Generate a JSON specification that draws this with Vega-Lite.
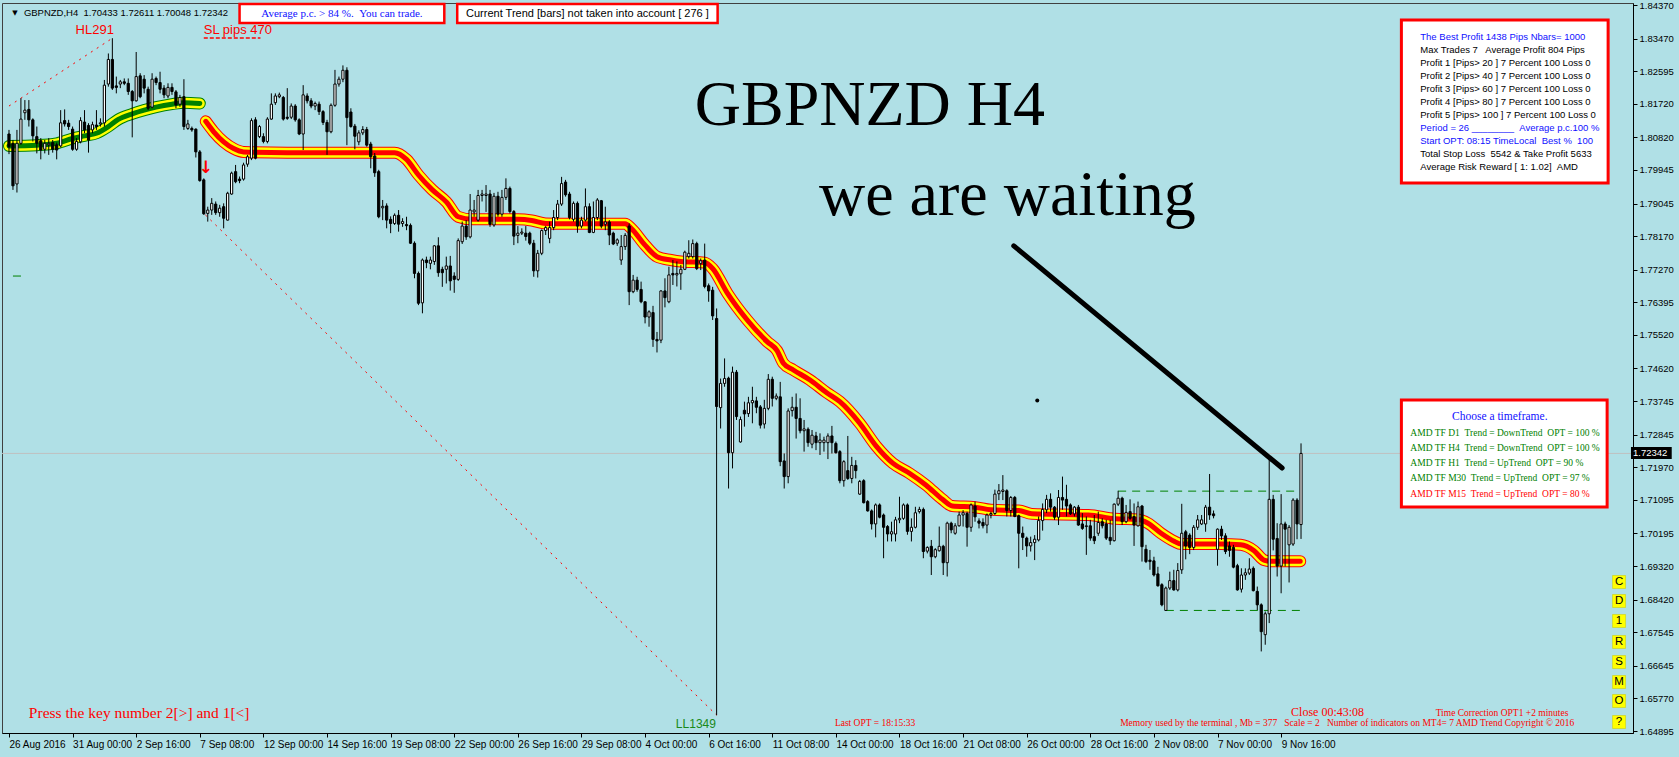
{
"$schema":"https://vega.github.io/schema/vega-lite/v6.json",
"width":1631,"height":730,"autosize":"none",
"padding":{"left":2,"top":3,"right":46,"bottom":24},
"background":"#b0e0e6",
"config":{"view":{"stroke":"#404040","strokeWidth":1,"fill":"#b0e0e6"},"font":"Liberation Sans"},
"resolve":{"axis":{"x":"independent","y":"independent"}},
"datasets":{
"bars":[
{"i":0,"o":1.8091,"h":1.8102,"l":1.8037,"c":1.8057},{"i":1,"o":1.8066,"h":1.8075,"l":1.7941,"c":1.7952},{"i":2,"o":1.7957,"h":1.8102,"l":1.7934,"c":1.8066},{"i":3,"o":1.8066,"h":1.8187,"l":1.8062,"c":1.8131},{"i":4,"o":1.8148,"h":1.8182,"l":1.8129,"c":1.8155},{"i":5,"o":1.8157,"h":1.8182,"l":1.8111,"c":1.8129},{"i":6,"o":1.8129,"h":1.8133,"l":1.8071,"c":1.8086},{"i":7,"o":1.8084,"h":1.8111,"l":1.8039,"c":1.8066},{"i":8,"o":1.8073,"h":1.808,"l":1.8023,"c":1.8048},{"i":9,"o":1.805,"h":1.8075,"l":1.8039,"c":1.8066},
{"i":10,"o":1.8062,"h":1.808,"l":1.8035,"c":1.8066},{"i":11,"o":1.8068,"h":1.8075,"l":1.8041,"c":1.805},{"i":12,"o":1.8062,"h":1.8068,"l":1.8023,"c":1.8048},{"i":13,"o":1.8059,"h":1.8155,"l":1.8055,"c":1.8121},{"i":14,"o":1.8127,"h":1.8157,"l":1.8111,"c":1.8118},{"i":15,"o":1.812,"h":1.8129,"l":1.8102,"c":1.8111},{"i":16,"o":1.8104,"h":1.8111,"l":1.8046,"c":1.805},{"i":17,"o":1.805,"h":1.808,"l":1.8046,"c":1.8071},{"i":18,"o":1.807,"h":1.8136,"l":1.8066,"c":1.8127},{"i":19,"o":1.8123,"h":1.8155,"l":1.8093,"c":1.8102},
{"i":20,"o":1.8114,"h":1.812,"l":1.8041,"c":1.8075},{"i":21,"o":1.8102,"h":1.8124,"l":1.8093,"c":1.8116},{"i":22,"o":1.8115,"h":1.8155,"l":1.8102,"c":1.8111},{"i":23,"o":1.8118,"h":1.8133,"l":1.8111,"c":1.8121},{"i":24,"o":1.8121,"h":1.8236,"l":1.8111,"c":1.8222},{"i":25,"o":1.8225,"h":1.8307,"l":1.8218,"c":1.8291},{"i":26,"o":1.8291,"h":1.8348,"l":1.8209,"c":1.8214},{"i":27,"o":1.822,"h":1.8245,"l":1.82,"c":1.8216},{"i":28,"o":1.8225,"h":1.8236,"l":1.8214,"c":1.8231},{"i":29,"o":1.8231,"h":1.824,"l":1.8222,"c":1.8227},
{"i":30,"o":1.8227,"h":1.824,"l":1.8196,"c":1.8205},{"i":31,"o":1.8205,"h":1.8209,"l":1.8082,"c":1.818},{"i":32,"o":1.818,"h":1.8311,"l":1.8178,"c":1.8245},{"i":33,"o":1.8247,"h":1.8254,"l":1.8187,"c":1.8191},{"i":34,"o":1.8238,"h":1.8249,"l":1.82,"c":1.8214},{"i":35,"o":1.8211,"h":1.8218,"l":1.8155,"c":1.816},{"i":36,"o":1.8163,"h":1.8254,"l":1.816,"c":1.8238},{"i":37,"o":1.824,"h":1.8245,"l":1.8222,"c":1.8229},{"i":38,"o":1.8229,"h":1.8258,"l":1.82,"c":1.8211},{"i":39,"o":1.8214,"h":1.8222,"l":1.8187,"c":1.8196},
{"i":40,"o":1.8193,"h":1.8227,"l":1.8187,"c":1.8216},{"i":41,"o":1.8216,"h":1.8227,"l":1.8196,"c":1.8205},{"i":42,"o":1.8204,"h":1.8209,"l":1.816,"c":1.8169},{"i":43,"o":1.8171,"h":1.8196,"l":1.8164,"c":1.8189},{"i":44,"o":1.8191,"h":1.8238,"l":1.8102,"c":1.8111},{"i":45,"o":1.8106,"h":1.8129,"l":1.8102,"c":1.8118},{"i":46,"o":1.8106,"h":1.8111,"l":1.8097,"c":1.8102},{"i":47,"o":1.8104,"h":1.8106,"l":1.8028,"c":1.8043},{"i":48,"o":1.8043,"h":1.8048,"l":1.7963,"c":1.7966},{"i":49,"o":1.7968,"h":1.7972,"l":1.7874,"c":1.7877},
{"i":50,"o":1.7878,"h":1.7896,"l":1.7856,"c":1.7887},{"i":51,"o":1.7887,"h":1.7919,"l":1.7874,"c":1.7905},{"i":52,"o":1.7903,"h":1.791,"l":1.7874,"c":1.788},{"i":53,"o":1.788,"h":1.7901,"l":1.7869,"c":1.7892},{"i":54,"o":1.7896,"h":1.7905,"l":1.7838,"c":1.7865},{"i":55,"o":1.786,"h":1.7936,"l":1.7859,"c":1.7932},{"i":56,"o":1.793,"h":1.799,"l":1.7928,"c":1.7986},{"i":57,"o":1.799,"h":1.8008,"l":1.7959,"c":1.7963},{"i":58,"o":1.797,"h":1.7977,"l":1.7959,"c":1.7966},{"i":59,"o":1.797,"h":1.8014,"l":1.7966,"c":1.8008},
{"i":60,"o":1.801,"h":1.8035,"l":1.8003,"c":1.803},{"i":61,"o":1.8026,"h":1.8133,"l":1.8021,"c":1.8127},{"i":62,"o":1.8129,"h":1.8136,"l":1.8023,"c":1.8026},{"i":63,"o":1.8084,"h":1.8115,"l":1.808,"c":1.8111},{"i":64,"o":1.8084,"h":1.8093,"l":1.8066,"c":1.8071},{"i":65,"o":1.8071,"h":1.8136,"l":1.8066,"c":1.8131},{"i":66,"o":1.8131,"h":1.82,"l":1.8129,"c":1.8171},{"i":67,"o":1.8175,"h":1.82,"l":1.8169,"c":1.8193},{"i":68,"o":1.8191,"h":1.8202,"l":1.8187,"c":1.8196},{"i":69,"o":1.8189,"h":1.8193,"l":1.8127,"c":1.8131},
{"i":70,"o":1.8136,"h":1.8214,"l":1.8129,"c":1.8133},{"i":71,"o":1.8136,"h":1.8173,"l":1.8131,"c":1.8166},{"i":72,"o":1.8166,"h":1.8171,"l":1.8124,"c":1.8129},{"i":73,"o":1.8129,"h":1.8133,"l":1.8088,"c":1.8091},{"i":74,"o":1.8091,"h":1.8222,"l":1.8048,"c":1.8196},{"i":75,"o":1.8193,"h":1.82,"l":1.8173,"c":1.818},{"i":76,"o":1.818,"h":1.8187,"l":1.816,"c":1.8166},{"i":77,"o":1.8166,"h":1.8178,"l":1.8155,"c":1.8173},{"i":78,"o":1.8171,"h":1.8178,"l":1.8142,"c":1.8151},{"i":79,"o":1.8151,"h":1.8155,"l":1.8115,"c":1.8122},
{"i":80,"o":1.8122,"h":1.8129,"l":1.8035,"c":1.8097},{"i":81,"o":1.8097,"h":1.8173,"l":1.8093,"c":1.8168},{"i":82,"o":1.8168,"h":1.8263,"l":1.8164,"c":1.8225},{"i":83,"o":1.8225,"h":1.8245,"l":1.8218,"c":1.8238},{"i":84,"o":1.8238,"h":1.8275,"l":1.823,"c":1.8262},{"i":85,"o":1.8262,"h":1.827,"l":1.8061,"c":1.8135},{"i":86,"o":1.815,"h":1.816,"l":1.8108,"c":1.8111},{"i":87,"o":1.8112,"h":1.8118,"l":1.805,"c":1.8085},{"i":88,"o":1.807,"h":1.8101,"l":1.8061,"c":1.8094},{"i":89,"o":1.8094,"h":1.8112,"l":1.8088,"c":1.8103},
{"i":90,"o":1.8103,"h":1.811,"l":1.8057,"c":1.8061},{"i":91,"o":1.8064,"h":1.807,"l":1.7999,"c":1.803},{"i":92,"o":1.8032,"h":1.804,"l":1.7976,"c":1.7987},{"i":93,"o":1.799,"h":1.7995,"l":1.7865,"c":1.7869},{"i":94,"o":1.7893,"h":1.7914,"l":1.786,"c":1.7897},{"i":95,"o":1.7898,"h":1.7905,"l":1.7838,"c":1.786},{"i":96,"o":1.7862,"h":1.787,"l":1.7825,"c":1.7851},{"i":97,"o":1.7851,"h":1.7878,"l":1.7847,"c":1.7873},{"i":98,"o":1.7873,"h":1.7887,"l":1.7829,"c":1.7849},{"i":99,"o":1.7851,"h":1.7865,"l":1.7842,"c":1.7856},
{"i":100,"o":1.7848,"h":1.7869,"l":1.7833,"c":1.7845},{"i":101,"o":1.7846,"h":1.7851,"l":1.7796,"c":1.7798},{"i":102,"o":1.7798,"h":1.7803,"l":1.7704,"c":1.7717},{"i":103,"o":1.7717,"h":1.7722,"l":1.7632,"c":1.7637},{"i":104,"o":1.7638,"h":1.7757,"l":1.761,"c":1.7753},{"i":105,"o":1.7753,"h":1.7762,"l":1.7731,"c":1.7746},{"i":106,"o":1.7744,"h":1.7762,"l":1.7728,"c":1.7753},{"i":107,"o":1.7749,"h":1.7793,"l":1.774,"c":1.7791},{"i":108,"o":1.7791,"h":1.7814,"l":1.7708,"c":1.7719},{"i":109,"o":1.7728,"h":1.7735,"l":1.7681,"c":1.7719},
{"i":110,"o":1.7728,"h":1.7762,"l":1.769,"c":1.7737},{"i":111,"o":1.7737,"h":1.7764,"l":1.7671,"c":1.7697},{"i":112,"o":1.771,"h":1.772,"l":1.7665,"c":1.7701},{"i":113,"o":1.7701,"h":1.7811,"l":1.7697,"c":1.7805},{"i":114,"o":1.7802,"h":1.7856,"l":1.7796,"c":1.7844},{"i":115,"o":1.7844,"h":1.786,"l":1.7807,"c":1.7815},{"i":116,"o":1.7815,"h":1.793,"l":1.7811,"c":1.7887},{"i":117,"o":1.7882,"h":1.7914,"l":1.7869,"c":1.7887},{"i":118,"o":1.786,"h":1.7941,"l":1.7856,"c":1.7926},{"i":119,"o":1.7926,"h":1.7941,"l":1.791,"c":1.793},
{"i":120,"o":1.7926,"h":1.7954,"l":1.7882,"c":1.793},{"i":121,"o":1.793,"h":1.7941,"l":1.7842,"c":1.7849},{"i":122,"o":1.7847,"h":1.7933,"l":1.7842,"c":1.7924},{"i":123,"o":1.7924,"h":1.7936,"l":1.7869,"c":1.7876},{"i":124,"o":1.7876,"h":1.7941,"l":1.7869,"c":1.7921},{"i":125,"o":1.7921,"h":1.7972,"l":1.7914,"c":1.7945},{"i":126,"o":1.7945,"h":1.795,"l":1.7878,"c":1.7883},{"i":127,"o":1.7883,"h":1.7887,"l":1.7793,"c":1.7817},{"i":128,"o":1.7819,"h":1.7844,"l":1.7798,"c":1.7825},{"i":129,"o":1.7825,"h":1.7838,"l":1.782,"c":1.7828},
{"i":130,"o":1.7825,"h":1.7844,"l":1.7805,"c":1.7816},{"i":131,"o":1.7825,"h":1.7829,"l":1.7793,"c":1.7798},{"i":132,"o":1.7798,"h":1.7807,"l":1.7708,"c":1.7724},{"i":133,"o":1.7724,"h":1.778,"l":1.7706,"c":1.7771},{"i":134,"o":1.7771,"h":1.7835,"l":1.7766,"c":1.7832},{"i":135,"o":1.7832,"h":1.7844,"l":1.782,"c":1.784},{"i":136,"o":1.7811,"h":1.7856,"l":1.7798,"c":1.784},{"i":137,"o":1.784,"h":1.7887,"l":1.7833,"c":1.7867},{"i":138,"o":1.7867,"h":1.7914,"l":1.786,"c":1.7903},{"i":139,"o":1.7903,"h":1.7976,"l":1.7898,"c":1.7958},
{"i":140,"o":1.7962,"h":1.7968,"l":1.7923,"c":1.7928},{"i":141,"o":1.793,"h":1.7936,"l":1.7862,"c":1.7867},{"i":142,"o":1.7862,"h":1.791,"l":1.7856,"c":1.7905},{"i":143,"o":1.7905,"h":1.791,"l":1.7826,"c":1.7844},{"i":144,"o":1.7844,"h":1.7869,"l":1.7838,"c":1.786},{"i":145,"o":1.786,"h":1.7945,"l":1.7856,"c":1.7896},{"i":146,"o":1.7896,"h":1.7905,"l":1.7825,"c":1.7827},{"i":147,"o":1.7827,"h":1.791,"l":1.7825,"c":1.7867},{"i":148,"o":1.7867,"h":1.7919,"l":1.786,"c":1.7914},{"i":149,"o":1.7912,"h":1.7914,"l":1.7838,"c":1.7844},
{"i":150,"o":1.7849,"h":1.7896,"l":1.7833,"c":1.7855},{"i":151,"o":1.7855,"h":1.786,"l":1.7793,"c":1.782},{"i":152,"o":1.7825,"h":1.7829,"l":1.7793,"c":1.7796},{"i":153,"o":1.7798,"h":1.7811,"l":1.7791,"c":1.7807},{"i":154,"o":1.7753,"h":1.782,"l":1.774,"c":1.7789},{"i":155,"o":1.7789,"h":1.7825,"l":1.778,"c":1.7819},{"i":156,"o":1.7844,"h":1.7851,"l":1.7632,"c":1.7668},{"i":157,"o":1.7668,"h":1.7713,"l":1.7664,"c":1.7699},{"i":158,"o":1.7699,"h":1.7708,"l":1.7668,"c":1.7674},{"i":159,"o":1.7674,"h":1.7695,"l":1.7637,"c":1.7641},
{"i":160,"o":1.7641,"h":1.7641,"l":1.7583,"c":1.76},{"i":161,"o":1.76,"h":1.7618,"l":1.7574,"c":1.7614},{"i":162,"o":1.7612,"h":1.763,"l":1.752,"c":1.754},{"i":163,"o":1.754,"h":1.756,"l":1.7505,"c":1.7536},{"i":164,"o":1.7538,"h":1.7672,"l":1.753,"c":1.767},{"i":165,"o":1.767,"h":1.7704,"l":1.7626,"c":1.7652},{"i":166,"o":1.7641,"h":1.7735,"l":1.7637,"c":1.7713},{"i":167,"o":1.7717,"h":1.7753,"l":1.7686,"c":1.7713},{"i":168,"o":1.7713,"h":1.7749,"l":1.7682,"c":1.7717},{"i":169,"o":1.7716,"h":1.774,"l":1.7673,"c":1.7728},
{"i":170,"o":1.7728,"h":1.7778,"l":1.7726,"c":1.7774},{"i":171,"o":1.7762,"h":1.7806,"l":1.7757,"c":1.7771},{"i":172,"o":1.7762,"h":1.7808,"l":1.7757,"c":1.7797},{"i":173,"o":1.7797,"h":1.7802,"l":1.7726,"c":1.773},{"i":174,"o":1.7744,"h":1.7757,"l":1.7726,"c":1.7751},{"i":175,"o":1.7753,"h":1.7797,"l":1.7677,"c":1.7682},{"i":176,"o":1.7684,"h":1.769,"l":1.7641,"c":1.767},{"i":177,"o":1.7672,"h":1.7681,"l":1.7592,"c":1.7603},{"i":178,"o":1.7596,"h":1.7623,"l":1.6532,"c":1.736},{"i":179,"o":1.7357,"h":1.7435,"l":1.7301,"c":1.7422},
{"i":180,"o":1.7422,"h":1.7489,"l":1.7413,"c":1.7435},{"i":181,"o":1.7436,"h":1.744,"l":1.714,"c":1.7236},{"i":182,"o":1.7236,"h":1.7467,"l":1.7194,"c":1.7452},{"i":183,"o":1.7452,"h":1.7458,"l":1.7324,"c":1.7333},{"i":184,"o":1.7265,"h":1.7333,"l":1.7263,"c":1.7325},{"i":185,"o":1.735,"h":1.7373,"l":1.7306,"c":1.734},{"i":186,"o":1.7341,"h":1.7386,"l":1.7332,"c":1.737},{"i":187,"o":1.737,"h":1.7413,"l":1.7315,"c":1.7376},{"i":188,"o":1.7375,"h":1.7386,"l":1.7342,"c":1.7358},{"i":189,"o":1.7359,"h":1.7364,"l":1.7301,"c":1.731},
{"i":190,"o":1.7313,"h":1.7378,"l":1.7301,"c":1.7355},{"i":191,"o":1.7355,"h":1.7447,"l":1.735,"c":1.7433},{"i":192,"o":1.7433,"h":1.744,"l":1.736,"c":1.7382},{"i":193,"o":1.7382,"h":1.7395,"l":1.7377,"c":1.7388},{"i":194,"o":1.7386,"h":1.7426,"l":1.72,"c":1.7212},{"i":195,"o":1.7214,"h":1.7234,"l":1.714,"c":1.7172},{"i":196,"o":1.7172,"h":1.7355,"l":1.7154,"c":1.7348},{"i":197,"o":1.7349,"h":1.7386,"l":1.7333,"c":1.7358},{"i":198,"o":1.7358,"h":1.7395,"l":1.7274,"c":1.7328},{"i":199,"o":1.7328,"h":1.7382,"l":1.7288,"c":1.7295},
{"i":200,"o":1.7295,"h":1.7324,"l":1.7239,"c":1.73},{"i":201,"o":1.7299,"h":1.7304,"l":1.7252,"c":1.7263},{"i":202,"o":1.7259,"h":1.7297,"l":1.7248,"c":1.7283},{"i":203,"o":1.7281,"h":1.7292,"l":1.7243,"c":1.7263},{"i":204,"o":1.7263,"h":1.7288,"l":1.723,"c":1.727},{"i":205,"o":1.7263,"h":1.7279,"l":1.7239,"c":1.727},{"i":206,"o":1.7263,"h":1.7288,"l":1.7219,"c":1.7281},{"i":207,"o":1.7281,"h":1.7308,"l":1.7234,"c":1.7263},{"i":208,"o":1.7261,"h":1.7266,"l":1.7234,"c":1.7236},{"i":209,"o":1.7239,"h":1.7243,"l":1.7154,"c":1.7161},
{"i":210,"o":1.7161,"h":1.7216,"l":1.7145,"c":1.7212},{"i":211,"o":1.7188,"h":1.7281,"l":1.7163,"c":1.7167},{"i":212,"o":1.7167,"h":1.7225,"l":1.7154,"c":1.7202},{"i":213,"o":1.7202,"h":1.7216,"l":1.7167,"c":1.7188},{"i":214,"o":1.7125,"h":1.7163,"l":1.7123,"c":1.7159},{"i":215,"o":1.7161,"h":1.7165,"l":1.71,"c":1.7102},{"i":216,"o":1.7105,"h":1.7109,"l":1.7078,"c":1.708},{"i":217,"o":1.708,"h":1.7084,"l":1.703,"c":1.7045},{"i":218,"o":1.7045,"h":1.71,"l":1.7009,"c":1.7096},{"i":219,"o":1.7096,"h":1.71,"l":1.706,"c":1.7063},
{"i":220,"o":1.7069,"h":1.7073,"l":1.6953,"c":1.7036},{"i":221,"o":1.7038,"h":1.7042,"l":1.6998,"c":1.7018},{"i":222,"o":1.7018,"h":1.7051,"l":1.6998,"c":1.7024},{"i":223,"o":1.7018,"h":1.7064,"l":1.6998,"c":1.7056},{"i":224,"o":1.7056,"h":1.7118,"l":1.7047,"c":1.706},{"i":225,"o":1.706,"h":1.71,"l":1.7056,"c":1.7096},{"i":226,"o":1.7096,"h":1.71,"l":1.7016,"c":1.7025},{"i":227,"o":1.7025,"h":1.706,"l":1.6998,"c":1.7036},{"i":228,"o":1.7036,"h":1.7091,"l":1.7033,"c":1.7075},{"i":229,"o":1.7078,"h":1.7091,"l":1.7073,"c":1.7084},
{"i":230,"o":1.7084,"h":1.7089,"l":1.6953,"c":1.6971},{"i":231,"o":1.6972,"h":1.6985,"l":1.6966,"c":1.6982},{"i":232,"o":1.6985,"h":1.7002,"l":1.6908,"c":1.6957},{"i":233,"o":1.6957,"h":1.698,"l":1.6953,"c":1.6976},{"i":234,"o":1.6973,"h":1.7038,"l":1.6971,"c":1.6985},{"i":235,"o":1.6985,"h":1.6989,"l":1.6908,"c":1.6941},{"i":236,"o":1.6941,"h":1.7051,"l":1.6904,"c":1.7047},{"i":237,"o":1.7047,"h":1.7051,"l":1.702,"c":1.7029},{"i":238,"o":1.702,"h":1.7047,"l":1.7016,"c":1.704},{"i":239,"o":1.704,"h":1.7078,"l":1.7038,"c":1.7069},
{"i":240,"o":1.7069,"h":1.7082,"l":1.7038,"c":1.7075},{"i":241,"o":1.7073,"h":1.7078,"l":1.6984,"c":1.7036},{"i":242,"o":1.7036,"h":1.71,"l":1.7024,"c":1.7096},{"i":243,"o":1.7093,"h":1.7105,"l":1.7051,"c":1.7064},{"i":244,"o":1.7053,"h":1.706,"l":1.7033,"c":1.7047},{"i":245,"o":1.7049,"h":1.706,"l":1.7033,"c":1.704},{"i":246,"o":1.7042,"h":1.7073,"l":1.702,"c":1.7069},{"i":247,"o":1.7069,"h":1.7078,"l":1.706,"c":1.7073},{"i":248,"o":1.7073,"h":1.7137,"l":1.7069,"c":1.7125},{"i":249,"o":1.7126,"h":1.7152,"l":1.7109,"c":1.7134},
{"i":250,"o":1.7132,"h":1.7176,"l":1.7109,"c":1.7136},{"i":251,"o":1.7134,"h":1.7138,"l":1.7065,"c":1.7081},{"i":252,"o":1.7081,"h":1.712,"l":1.7065,"c":1.7116},{"i":253,"o":1.7116,"h":1.712,"l":1.7063,"c":1.7065},{"i":254,"o":1.7067,"h":1.707,"l":1.6926,"c":1.702},{"i":255,"o":1.702,"h":1.7038,"l":1.6975,"c":1.7009},{"i":256,"o":1.7007,"h":1.7011,"l":1.6957,"c":1.6986},{"i":257,"o":1.6986,"h":1.7011,"l":1.6971,"c":1.6995},{"i":258,"o":1.6995,"h":1.7015,"l":1.6948,"c":1.7004},{"i":259,"o":1.7002,"h":1.7065,"l":1.6998,"c":1.7054},
{"i":260,"o":1.7054,"h":1.71,"l":1.7027,"c":1.7084},{"i":261,"o":1.7083,"h":1.7123,"l":1.7074,"c":1.7111},{"i":262,"o":1.7111,"h":1.7127,"l":1.7078,"c":1.709},{"i":263,"o":1.709,"h":1.7093,"l":1.7056,"c":1.7063},{"i":264,"o":1.7063,"h":1.7136,"l":1.7042,"c":1.7116},{"i":265,"o":1.7116,"h":1.7172,"l":1.7083,"c":1.7109},{"i":266,"o":1.7111,"h":1.715,"l":1.7065,"c":1.7093},{"i":267,"o":1.7096,"h":1.71,"l":1.7069,"c":1.7072},{"i":268,"o":1.7072,"h":1.7093,"l":1.7065,"c":1.709},{"i":269,"o":1.709,"h":1.7096,"l":1.704,"c":1.7042},
{"i":270,"o":1.7045,"h":1.7074,"l":1.7029,"c":1.7033},{"i":271,"o":1.7038,"h":1.7065,"l":1.6962,"c":1.704},{"i":272,"o":1.704,"h":1.7056,"l":1.7,"c":1.7007},{"i":273,"o":1.7011,"h":1.7069,"l":1.6991,"c":1.7},{"i":274,"o":1.702,"h":1.7078,"l":1.7013,"c":1.7049},{"i":275,"o":1.7051,"h":1.706,"l":1.7033,"c":1.704},{"i":276,"o":1.7045,"h":1.7056,"l":1.7002,"c":1.7007},{"i":277,"o":1.7009,"h":1.7056,"l":1.6989,"c":1.7},{"i":278,"o":1.7,"h":1.71,"l":1.6998,"c":1.7098},{"i":279,"o":1.7098,"h":1.7134,"l":1.7093,"c":1.7114},
{"i":280,"o":1.7114,"h":1.7118,"l":1.7042,"c":1.7051},{"i":281,"o":1.7051,"h":1.7096,"l":1.7047,"c":1.7076},{"i":282,"o":1.7078,"h":1.7111,"l":1.7056,"c":1.706},{"i":283,"o":1.7065,"h":1.71,"l":1.6986,"c":1.7042},{"i":284,"o":1.704,"h":1.7105,"l":1.7038,"c":1.7091},{"i":285,"o":1.7093,"h":1.7096,"l":1.6944,"c":1.6984},{"i":286,"o":1.6977,"h":1.6989,"l":1.694,"c":1.6944},{"i":287,"o":1.6948,"h":1.6975,"l":1.6922,"c":1.6944},{"i":288,"o":1.6946,"h":1.6957,"l":1.6904,"c":1.6908},{"i":289,"o":1.6911,"h":1.693,"l":1.6877,"c":1.6879},
{"i":290,"o":1.6882,"h":1.6886,"l":1.6824,"c":1.6828},{"i":291,"o":1.6813,"h":1.6877,"l":1.6813,"c":1.6873},{"i":292,"o":1.6873,"h":1.6917,"l":1.6868,"c":1.6893},{"i":293,"o":1.6893,"h":1.6922,"l":1.6866,"c":1.6868},{"i":294,"o":1.6868,"h":1.694,"l":1.6864,"c":1.692},{"i":295,"o":1.6922,"h":1.7099,"l":1.6911,"c":1.702},{"i":296,"o":1.7024,"h":1.7029,"l":1.695,"c":1.6986},{"i":297,"o":1.7015,"h":1.702,"l":1.6964,"c":1.6982},{"i":298,"o":1.6982,"h":1.7042,"l":1.6975,"c":1.7036},{"i":299,"o":1.7036,"h":1.7069,"l":1.7029,"c":1.7056},
{"i":300,"o":1.7045,"h":1.7069,"l":1.7042,"c":1.7056},{"i":301,"o":1.7045,"h":1.7096,"l":1.7024,"c":1.709},{"i":302,"o":1.709,"h":1.7179,"l":1.7056,"c":1.7069},{"i":303,"o":1.7072,"h":1.7081,"l":1.706,"c":1.7067},{"i":304,"o":1.6977,"h":1.7033,"l":1.6933,"c":1.7031},{"i":305,"o":1.7031,"h":1.704,"l":1.7002,"c":1.7013},{"i":306,"o":1.7013,"h":1.702,"l":1.6964,"c":1.6971},{"i":307,"o":1.6986,"h":1.6998,"l":1.6957,"c":1.6974},{"i":308,"o":1.6982,"h":1.6989,"l":1.6926,"c":1.6929},{"i":309,"o":1.6933,"h":1.6938,"l":1.6866,"c":1.6868},
{"i":310,"o":1.687,"h":1.6926,"l":1.6861,"c":1.6908},{"i":311,"o":1.6908,"h":1.6926,"l":1.6895,"c":1.6914},{"i":312,"o":1.6913,"h":1.6953,"l":1.6908,"c":1.6924},{"i":313,"o":1.6926,"h":1.6931,"l":1.6864,"c":1.6866},{"i":314,"o":1.6864,"h":1.6877,"l":1.6814,"c":1.6828},{"i":315,"o":1.6828,"h":1.6832,"l":1.6703,"c":1.6756},{"i":316,"o":1.6748,"h":1.681,"l":1.6721,"c":1.6804},{"i":317,"o":1.6804,"h":1.7218,"l":1.6779,"c":1.7111},{"i":318,"o":1.7111,"h":1.7123,"l":1.6974,"c":1.7004},{"i":319,"o":1.7006,"h":1.7047,"l":1.6904,"c":1.6932},
{"i":320,"o":1.6932,"h":1.7125,"l":1.6859,"c":1.7045},{"i":321,"o":1.7045,"h":1.7051,"l":1.6931,"c":1.7031},{"i":322,"o":1.6989,"h":1.7042,"l":1.6888,"c":1.7036},{"i":323,"o":1.6991,"h":1.7114,"l":1.6986,"c":1.7109},{"i":324,"o":1.7109,"h":1.7114,"l":1.7004,"c":1.7045},{"i":325,"o":1.70433,"h":1.72611,"l":1.70048,"c":1.72342}
],
"ma":[
{"i":0,"v":1.8059,"s":"up"},{"i":7,"v":1.8061,"s":"up"},{"i":12,"v":1.8066,"s":"up"},{"i":16,"v":1.8079,"s":"up"},{"i":19,"v":1.8086,"s":"up"},{"i":22,"v":1.8093,"s":"up"},{"i":25,"v":1.8111,"s":"up"},{"i":27.5,"v":1.813,"s":"up"},{"i":31,"v":1.8145,"s":"up"},{"i":34,"v":1.8155,"s":"up"},{"i":37,"v":1.8163,"s":"up"},{"i":41,"v":1.8171,"s":"up"},{"i":44,"v":1.8175,"s":"up"},{"i":48,"v":1.8173,"s":"up"},
{"i":49.5,"v":1.8125,"s":"dn"},{"i":51.5,"v":1.8097,"s":"dn"},{"i":54,"v":1.807,"s":"dn"},{"i":56.5,"v":1.8052,"s":"dn"},{"i":59,"v":1.8043,"s":"dn"},{"i":70,"v":1.8041,"s":"dn"},{"i":84,"v":1.8041,"s":"dn"},{"i":97,"v":1.8041,"s":"dn"},{"i":100,"v":1.8023,"s":"dn"},{"i":103,"v":1.7981,"s":"dn"},{"i":106.5,"v":1.7941,"s":"dn"},{"i":110,"v":1.7909,"s":"dn"},{"i":113,"v":1.7869,"s":"dn"},{"i":116.5,"v":1.7862,"s":"dn"},{"i":128,"v":1.7862,"s":"dn"},{"i":131.5,"v":1.7859,"s":"dn"},{"i":135,"v":1.7851,"s":"dn"},{"i":140,"v":1.785,"s":"dn"},{"i":155,"v":1.785,"s":"dn"},{"i":156.5,"v":1.7838,"s":"dn"},{"i":160,"v":1.7793,"s":"dn"},{"i":163,"v":1.7762,"s":"dn"},{"i":166.5,"v":1.7753,"s":"dn"},{"i":169,"v":1.7749,"s":"dn"},{"i":175,"v":1.7746,"s":"dn"},{"i":177,"v":1.773,"s":"dn"},{"i":180.7,"v":1.7664,"s":"dn"},{"i":185.7,"v":1.7592,"s":"dn"},{"i":190.7,"v":1.7534,"s":"dn"},{"i":193.2,"v":1.751,"s":"dn"},{"i":194.8,"v":1.7476,"s":"dn"},{"i":197.3,"v":1.7458,"s":"dn"},{"i":201.5,"v":1.7431,"s":"dn"},{"i":205.7,"v":1.7397,"s":"dn"},{"i":209,"v":1.7373,"s":"dn"},{"i":214,"v":1.7315,"s":"dn"},{"i":218.2,"v":1.7253,"s":"dn"},{"i":222.3,"v":1.7208,"s":"dn"},{"i":226.5,"v":1.7181,"s":"dn"},{"i":230.7,"v":1.7149,"s":"dn"},{"i":234.8,"v":1.7111,"s":"dn"},{"i":237.3,"v":1.7093,"s":"dn"},{"i":243,"v":1.709,"s":"dn"},{"i":247,"v":1.7083,"s":"dn"},{"i":254,"v":1.7081,"s":"dn"},{"i":257.3,"v":1.7072,"s":"dn"},{"i":271.5,"v":1.7069,"s":"dn"},{"i":278.2,"v":1.7059,"s":"dn"},{"i":284,"v":1.7057,"s":"dn"},{"i":286.5,"v":1.7047,"s":"dn"},{"i":289.8,"v":1.702,"s":"dn"},{"i":293.2,"v":1.6998,"s":"dn"},{"i":294.8,"v":1.6991,"s":"dn"},{"i":304.8,"v":1.6991,"s":"dn"},{"i":309.8,"v":1.6989,"s":"dn"},{"i":313.2,"v":1.6973,"s":"dn"},{"i":315.7,"v":1.6948,"s":"dn"},{"i":317.3,"v":1.6945,"s":"dn"},{"i":324.8,"v":1.6945,"s":"dn"}
],
"segs":[
{"g":"dot","i":0,"i2":26,"p":1.8166,"p2":1.8348},
{"g":"dot","i":49.4,"i2":178,"p":1.7874,"p2":1.6532},
{"g":"sl","i":49,"i2":63.25,"p":1.83485,"p2":1.83485},
{"g":"grn","i":279,"i2":324,"p":1.7133,"p2":1.7133},
{"g":"grn","i":291,"i2":325,"p":1.6813,"p2":1.6813},
{"g":"grn","i":1,"i2":3.25,"p":1.771,"p2":1.771},
{"g":"ptr","i":252.75,"i2":320.25,"p":1.7791,"p2":1.7195}
],
"boxes":[
{"g":"top","i":58,"i2":109.5,"p":1.84397,"p2":1.83887},
{"g":"top","i":112.75,"i2":178.25,"p":1.84397,"p2":1.83887},
{"g":"info","i":350.25,"i2":402.25,"p":1.83968,"p2":1.79595},
{"g":"info","i":350.25,"i2":402,"p":1.73775,"p2":1.70904},
{"g":"pbox","i":408,"i2":418.25,"p":1.72514,"p2":1.72192}
],
"notes":[
{"g":"hdr","i":3.75,"p":1.84155,"t":"GBPNZD,H4 \u00a01.70433 1.72611 1.70048 1.72342"},
{"g":"tri","i":1.5,"p":1.84155,"t":"▼"},
{"g":"boxA","i":83.75,"p":1.84129,"t":"Average p.c. > 84 %. \u00a0You can trade."},
{"g":"boxB","i":145.5,"p":1.84129,"t":"Current Trend [bars] not taken into account [ 276 ]"},
{"g":"red13","i":16.75,"p":1.83699,"t":"HL291"},
{"g":"red13","i":49,"p":1.83699,"t":"SL pips 470"},
{"g":"big","i":172.5,"p":1.81151,"t":"GBPNZD H4"},
{"g":"big","i":203.75,"p":1.78737,"t":"we are waiting"},
{"g":"infoBlue","i":355,"p":1.835116,"t":"The Best Profit 1438 Pips Nbars= 1000"},
{"g":"infoBlack","i":355,"p":1.831629,"t":"Max Trades 7 \u00a0 Average Profit 804 Pips"},
{"g":"infoBlack","i":355,"p":1.828142,"t":"Profit 1 [Pips> 20 ] 7 Percent 100 Loss 0"},
{"g":"infoBlack","i":355,"p":1.824655,"t":"Profit 2 [Pips> 40 ] 7 Percent 100 Loss 0"},
{"g":"infoBlack","i":355,"p":1.821168,"t":"Profit 3 [Pips> 60 ] 7 Percent 100 Loss 0"},
{"g":"infoBlack","i":355,"p":1.817681,"t":"Profit 4 [Pips> 80 ] 7 Percent 100 Loss 0"},
{"g":"infoBlack","i":355,"p":1.814194,"t":"Profit 5 [Pips> 100 ] 7 Percent 100 Loss 0"},
{"g":"infoBlue","i":355,"p":1.810706,"t":"Period = 26 ________ \u00a0Average p.c.100 %"},
{"g":"infoBlue","i":355,"p":1.807219,"t":"Start OPT: 08:15 TimeLocal \u00a0Best % \u00a0100"},
{"g":"infoBlack","i":355,"p":1.803732,"t":"Total Stop Loss \u00a05542 & Take Profit 5633"},
{"g":"infoBlack","i":355,"p":1.800245,"t":"Average Risk Reward [ 1: 1.02] \u00a0AMD"},
{"g":"tfTitle","i":375,"p":1.73319,"t":"Choose a timeframe."},
{"g":"tfGreen","i":352.5,"p":1.728893,"t":"AMD TF D1 \u00a0Trend = DownTrend \u00a0OPT = 100 %"},
{"g":"tfGreen","i":352.5,"p":1.72487,"t":"AMD TF H4 \u00a0Trend = DownTrend \u00a0OPT = 100 %"},
{"g":"tfGreen","i":352.5,"p":1.720846,"t":"AMD TF H1 \u00a0Trend = UpTrend \u00a0OPT = 90 %"},
{"g":"tfGreen","i":352.5,"p":1.716822,"t":"AMD TF M30 \u00a0Trend = UpTrend \u00a0OPT = 97 %"},
{"g":"tfRed","i":352.5,"p":1.712531,"t":"AMD TF M15 \u00a0Trend = UpTrend \u00a0OPT = 80 %"},
{"g":"press","i":5,"p":1.65379,"t":"Press the key number 2[>] and 1[<]"},
{"g":"ll","i":167.75,"p":1.65084,"t":"LL1349"},
{"g":"smallL","i":207.75,"p":1.6511,"t":"Last OPT = 18:15:33"},
{"g":"smallR","i":393.75,"p":1.6511,"t":"Memory used by the terminal , Mb = 377 \u00a0 Scale = 2 \u00a0 Number of indicators on MT4= 7 AMD Trend Copyright © 2016"},
{"g":"smallR","i":392.25,"p":1.65379,"t":"Time Correction OPT1 +2 minutes"},
{"g":"close","i":322.5,"p":1.65405,"t":"Close 00:43:08"},
{"g":"btn","i":405,"p":1.68893,"t":"C"},
{"g":"btn","i":405,"p":1.68383,"t":"D"},
{"g":"btn","i":405,"p":1.67847,"t":"1"},
{"g":"btn","i":405,"p":1.67284,"t":"R"},
{"g":"btn","i":405,"p":1.66746,"t":"S"},
{"g":"btn","i":405,"p":1.6621,"t":"M"},
{"g":"btn","i":405,"p":1.657,"t":"O"},
{"g":"btn","i":405,"p":1.65137,"t":"?"},
{"g":"pbox","i":408.5,"p":1.72342,"t":"1.72342"},
{"g":"arrow","i":49.5,"p":1.79998,"t":"↓"},
{"g":"dot","i":258.65,"p":1.73761,"t":""}
]
},
"layer":[
{"data":{"name":"bars"},"mark":{"type":"rule","opacity":0},"encoding":{"x":{"field":"i","type":"quantitative","scale":{"domain":[-0.5,407.25],"nice":false,"zero":false},"axis":{"orient":"bottom","title":null,"grid":false,"values":[0,16,32,48,64,80,96,112,128,144,160,176,192,208,224,240,256,272,288,304,320],"labelExpr":"['26 Aug 2016','31 Aug 00:00','2 Sep 16:00','7 Sep 08:00','12 Sep 00:00','14 Sep 16:00','19 Sep 08:00','22 Sep 00:00','26 Sep 16:00','29 Sep 08:00','4 Oct 00:00','6 Oct 16:00','11 Oct 08:00','14 Oct 00:00','18 Oct 16:00','21 Oct 08:00','26 Oct 00:00','28 Oct 16:00','2 Nov 08:00','7 Nov 00:00','9 Nov 16:00'][round(datum.value/16)]","labelAlign":"left","labelBaseline":"top","labelPadding":2,"labelOffset":0,"tickSize":4,"tickColor":"#000000","domainColor":"#000000","labelColor":"#000000","labelFont":"Liberation Sans","labelFontSize":10,"labelOverlap":false,"labelFlush":false,"labelBound":false}},"y":{"field":"l","type":"quantitative","scale":{"domain":[1.64842,1.84424],"nice":false,"zero":false},"axis":{"orient":"right","title":null,"grid":false,"values":[1.8437,1.8347,1.82595,1.8172,1.8082,1.79945,1.79045,1.7817,1.7727,1.76395,1.7552,1.7462,1.73745,1.72845,1.7197,1.71095,1.70195,1.6932,1.6842,1.67545,1.66645,1.6577,1.64895],"format":".5f","labelPadding":2,"tickSize":4,"tickColor":"#000000","domainColor":"#000000","labelColor":"#000000","labelFont":"Liberation Sans","labelFontSize":9.5,"labelBaseline":"middle","labelOverlap":false,"labelFlush":false,"labelBound":false}},"y2":{"field":"h"}}},
{"data":{"values":[{"p":1.72342}]},"mark":{"type":"rule","color":"#c0c0c0","strokeWidth":1},"encoding":{"y":{"field":"p","type":"quantitative","scale":{"domain":[1.64842,1.84424],"nice":false,"zero":false},"axis":null}}},
{"data":{"name":"ma"},"transform":[{"filter":"datum.s=='up'"}],"mark":{"type":"line","interpolate":"monotone","strokeCap":"round","strokeJoin":"round","strokeWidth":12,"color":"#008000"},"encoding":{"x":{"field":"i","type":"quantitative","scale":{"domain":[-0.5,407.25],"nice":false,"zero":false},"axis":null},"y":{"field":"v","type":"quantitative","scale":{"domain":[1.64842,1.84424],"nice":false,"zero":false},"axis":null}}},
{"data":{"name":"ma"},"transform":[{"filter":"datum.s=='up'"}],"mark":{"type":"line","interpolate":"monotone","strokeCap":"round","strokeJoin":"round","strokeWidth":10,"color":"#ffff00"},"encoding":{"x":{"field":"i","type":"quantitative","scale":{"domain":[-0.5,407.25],"nice":false,"zero":false},"axis":null},"y":{"field":"v","type":"quantitative","scale":{"domain":[1.64842,1.84424],"nice":false,"zero":false},"axis":null}}},
{"data":{"name":"ma"},"transform":[{"filter":"datum.s=='up'"}],"mark":{"type":"line","interpolate":"monotone","strokeCap":"round","strokeJoin":"round","strokeWidth":5,"color":"#008000"},"encoding":{"x":{"field":"i","type":"quantitative","scale":{"domain":[-0.5,407.25],"nice":false,"zero":false},"axis":null},"y":{"field":"v","type":"quantitative","scale":{"domain":[1.64842,1.84424],"nice":false,"zero":false},"axis":null}}},
{"data":{"name":"ma"},"transform":[{"filter":"datum.s=='dn'"}],"mark":{"type":"line","interpolate":"monotone","strokeCap":"round","strokeJoin":"round","strokeWidth":12,"color":"#ff0000"},"encoding":{"x":{"field":"i","type":"quantitative","scale":{"domain":[-0.5,407.25],"nice":false,"zero":false},"axis":null},"y":{"field":"v","type":"quantitative","scale":{"domain":[1.64842,1.84424],"nice":false,"zero":false},"axis":null}}},
{"data":{"name":"ma"},"transform":[{"filter":"datum.s=='dn'"}],"mark":{"type":"line","interpolate":"monotone","strokeCap":"round","strokeJoin":"round","strokeWidth":10,"color":"#ffff00"},"encoding":{"x":{"field":"i","type":"quantitative","scale":{"domain":[-0.5,407.25],"nice":false,"zero":false},"axis":null},"y":{"field":"v","type":"quantitative","scale":{"domain":[1.64842,1.84424],"nice":false,"zero":false},"axis":null}}},
{"data":{"name":"ma"},"transform":[{"filter":"datum.s=='dn'"}],"mark":{"type":"line","interpolate":"monotone","strokeCap":"round","strokeJoin":"round","strokeWidth":5,"color":"#ff0000"},"encoding":{"x":{"field":"i","type":"quantitative","scale":{"domain":[-0.5,407.25],"nice":false,"zero":false},"axis":null},"y":{"field":"v","type":"quantitative","scale":{"domain":[1.64842,1.84424],"nice":false,"zero":false},"axis":null}}},
{"data":{"name":"segs"},"transform":[{"filter":"datum.g=='dot'"}],"mark":{"type":"rule","color":"#ff0000","strokeWidth":1,"strokeDash":[2,5]},"encoding":{"x":{"field":"i","type":"quantitative","scale":{"domain":[-0.5,407.25],"nice":false,"zero":false},"axis":null},"x2":{"field":"i2"},"y":{"field":"p","type":"quantitative","scale":{"domain":[1.64842,1.84424],"nice":false,"zero":false},"axis":null},"y2":{"field":"p2"}}},
{"data":{"name":"segs"},"transform":[{"filter":"datum.g=='sl'"}],"mark":{"type":"rule","color":"#ff0000","strokeWidth":1.5,"strokeDash":[4,2]},"encoding":{"x":{"field":"i","type":"quantitative","scale":{"domain":[-0.5,407.25],"nice":false,"zero":false},"axis":null},"x2":{"field":"i2"},"y":{"field":"p","type":"quantitative","scale":{"domain":[1.64842,1.84424],"nice":false,"zero":false},"axis":null},"y2":{"field":"p2"}}},
{"data":{"name":"segs"},"transform":[{"filter":"datum.g=='grn'"}],"mark":{"type":"rule","color":"#008000","strokeWidth":1,"strokeDash":[8,6]},"encoding":{"x":{"field":"i","type":"quantitative","scale":{"domain":[-0.5,407.25],"nice":false,"zero":false},"axis":null},"x2":{"field":"i2"},"y":{"field":"p","type":"quantitative","scale":{"domain":[1.64842,1.84424],"nice":false,"zero":false},"axis":null},"y2":{"field":"p2"}}},
{"data":{"name":"bars"},"mark":{"type":"rule","color":"#000000","strokeWidth":1},"encoding":{"x":{"field":"i","type":"quantitative","scale":{"domain":[-0.5,407.25],"nice":false,"zero":false},"axis":null},"y":{"field":"l","type":"quantitative","scale":{"domain":[1.64842,1.84424],"nice":false,"zero":false},"axis":null},"y2":{"field":"h"}}},
{"data":{"name":"bars"},"mark":{"type":"bar","width":2.2,"stroke":"#000000","strokeWidth":1},"encoding":{"x":{"field":"i","type":"quantitative","scale":{"domain":[-0.5,407.25],"nice":false,"zero":false},"axis":null},"y":{"field":"o","type":"quantitative","scale":{"domain":[1.64842,1.84424],"nice":false,"zero":false},"axis":null},"y2":{"field":"c"},"fill":{"condition":{"test":"datum.c >= datum.o","value":"#ffffff"},"value":"#000000"}}},
{"data":{"name":"segs"},"transform":[{"filter":"datum.g=='ptr'"}],"mark":{"type":"rule","color":"#000000","strokeWidth":5,"strokeCap":"round"},"encoding":{"x":{"field":"i","type":"quantitative","scale":{"domain":[-0.5,407.25],"nice":false,"zero":false},"axis":null},"x2":{"field":"i2"},"y":{"field":"p","type":"quantitative","scale":{"domain":[1.64842,1.84424],"nice":false,"zero":false},"axis":null},"y2":{"field":"p2"}}},
{"data":{"name":"notes"},"transform":[{"filter":"datum.g=='dot'"}],"mark":{"type":"point","shape":"circle","filled":true,"size":16,"color":"#000000","opacity":1},"encoding":{"x":{"field":"i","type":"quantitative","scale":{"domain":[-0.5,407.25],"nice":false,"zero":false},"axis":null},"y":{"field":"p","type":"quantitative","scale":{"domain":[1.64842,1.84424],"nice":false,"zero":false},"axis":null}}},
{"data":{"name":"boxes"},"transform":[{"filter":"datum.g=='top'"}],"mark":{"type":"rect","fill":"#ffffff","stroke":"#ff0000","strokeWidth":2.5},"encoding":{"x":{"field":"i","type":"quantitative","scale":{"domain":[-0.5,407.25],"nice":false,"zero":false},"axis":null},"x2":{"field":"i2"},"y":{"field":"p","type":"quantitative","scale":{"domain":[1.64842,1.84424],"nice":false,"zero":false},"axis":null},"y2":{"field":"p2"}}},
{"data":{"name":"boxes"},"transform":[{"filter":"datum.g=='info'"}],"mark":{"type":"rect","fill":"#ffffff","stroke":"#ff0000","strokeWidth":3},"encoding":{"x":{"field":"i","type":"quantitative","scale":{"domain":[-0.5,407.25],"nice":false,"zero":false},"axis":null},"x2":{"field":"i2"},"y":{"field":"p","type":"quantitative","scale":{"domain":[1.64842,1.84424],"nice":false,"zero":false},"axis":null},"y2":{"field":"p2"}}},
{"data":{"name":"boxes"},"transform":[{"filter":"datum.g=='pbox'"}],"mark":{"type":"rect","fill":"#000000"},"encoding":{"x":{"field":"i","type":"quantitative","scale":{"domain":[-0.5,407.25],"nice":false,"zero":false},"axis":null},"x2":{"field":"i2"},"y":{"field":"p","type":"quantitative","scale":{"domain":[1.64842,1.84424],"nice":false,"zero":false},"axis":null},"y2":{"field":"p2"}}},
{"data":{"name":"notes"},"transform":[{"filter":"datum.g=='btn'"}],"mark":{"type":"point","shape":"square","filled":true,"size":169,"color":"#ffff00","opacity":1,"stroke":"#c8c800","strokeWidth":0.5},"encoding":{"x":{"field":"i","type":"quantitative","scale":{"domain":[-0.5,407.25],"nice":false,"zero":false},"axis":null},"y":{"field":"p","type":"quantitative","scale":{"domain":[1.64842,1.84424],"nice":false,"zero":false},"axis":null}}},
{"data":{"name":"notes"},"transform":[{"filter":"datum.g=='btn'"}],"mark":{"type":"text","align":"center","baseline":"middle","font":"Liberation Sans","fontSize":11.5,"color":"#000000"},"encoding":{"x":{"field":"i","type":"quantitative","scale":{"domain":[-0.5,407.25],"nice":false,"zero":false},"axis":null},"y":{"field":"p","type":"quantitative","scale":{"domain":[1.64842,1.84424],"nice":false,"zero":false},"axis":null},"text":{"field":"t"}}},
{"data":{"name":"notes"},"transform":[{"filter":"datum.g=='hdr'"}],"mark":{"type":"text","align":"left","baseline":"middle","font":"Liberation Sans","fontSize":9.5,"color":"#000000"},"encoding":{"x":{"field":"i","type":"quantitative","scale":{"domain":[-0.5,407.25],"nice":false,"zero":false},"axis":null},"y":{"field":"p","type":"quantitative","scale":{"domain":[1.64842,1.84424],"nice":false,"zero":false},"axis":null},"text":{"field":"t"}}},
{"data":{"name":"notes"},"transform":[{"filter":"datum.g=='tri'"}],"mark":{"type":"text","align":"center","baseline":"middle","font":"DejaVu Sans","fontSize":7,"color":"#000000"},"encoding":{"x":{"field":"i","type":"quantitative","scale":{"domain":[-0.5,407.25],"nice":false,"zero":false},"axis":null},"y":{"field":"p","type":"quantitative","scale":{"domain":[1.64842,1.84424],"nice":false,"zero":false},"axis":null},"text":{"field":"t"}}},
{"data":{"name":"notes"},"transform":[{"filter":"datum.g=='boxA'"}],"mark":{"type":"text","align":"center","baseline":"middle","font":"Liberation Serif","fontSize":11,"color":"#1010ff"},"encoding":{"x":{"field":"i","type":"quantitative","scale":{"domain":[-0.5,407.25],"nice":false,"zero":false},"axis":null},"y":{"field":"p","type":"quantitative","scale":{"domain":[1.64842,1.84424],"nice":false,"zero":false},"axis":null},"text":{"field":"t"}}},
{"data":{"name":"notes"},"transform":[{"filter":"datum.g=='boxB'"}],"mark":{"type":"text","align":"center","baseline":"middle","font":"Liberation Sans","fontSize":11,"color":"#000000"},"encoding":{"x":{"field":"i","type":"quantitative","scale":{"domain":[-0.5,407.25],"nice":false,"zero":false},"axis":null},"y":{"field":"p","type":"quantitative","scale":{"domain":[1.64842,1.84424],"nice":false,"zero":false},"axis":null},"text":{"field":"t"}}},
{"data":{"name":"notes"},"transform":[{"filter":"datum.g=='red13'"}],"mark":{"type":"text","align":"left","baseline":"middle","font":"Liberation Sans","fontSize":13,"color":"#ff0000"},"encoding":{"x":{"field":"i","type":"quantitative","scale":{"domain":[-0.5,407.25],"nice":false,"zero":false},"axis":null},"y":{"field":"p","type":"quantitative","scale":{"domain":[1.64842,1.84424],"nice":false,"zero":false},"axis":null},"text":{"field":"t"}}},
{"data":{"name":"notes"},"transform":[{"filter":"datum.g=='big'"}],"mark":{"type":"text","align":"left","baseline":"alphabetic","font":"Liberation Serif","fontSize":64,"color":"#000000"},"encoding":{"x":{"field":"i","type":"quantitative","scale":{"domain":[-0.5,407.25],"nice":false,"zero":false},"axis":null},"y":{"field":"p","type":"quantitative","scale":{"domain":[1.64842,1.84424],"nice":false,"zero":false},"axis":null},"text":{"field":"t"}}},
{"data":{"name":"notes"},"transform":[{"filter":"datum.g=='infoBlue'"}],"mark":{"type":"text","align":"left","baseline":"middle","font":"Liberation Sans","fontSize":9.5,"color":"#1010ff"},"encoding":{"x":{"field":"i","type":"quantitative","scale":{"domain":[-0.5,407.25],"nice":false,"zero":false},"axis":null},"y":{"field":"p","type":"quantitative","scale":{"domain":[1.64842,1.84424],"nice":false,"zero":false},"axis":null},"text":{"field":"t"}}},
{"data":{"name":"notes"},"transform":[{"filter":"datum.g=='infoBlack'"}],"mark":{"type":"text","align":"left","baseline":"middle","font":"Liberation Sans","fontSize":9.5,"color":"#000000"},"encoding":{"x":{"field":"i","type":"quantitative","scale":{"domain":[-0.5,407.25],"nice":false,"zero":false},"axis":null},"y":{"field":"p","type":"quantitative","scale":{"domain":[1.64842,1.84424],"nice":false,"zero":false},"axis":null},"text":{"field":"t"}}},
{"data":{"name":"notes"},"transform":[{"filter":"datum.g=='tfTitle'"}],"mark":{"type":"text","align":"center","baseline":"middle","font":"Liberation Serif","fontSize":11.5,"color":"#1010ff"},"encoding":{"x":{"field":"i","type":"quantitative","scale":{"domain":[-0.5,407.25],"nice":false,"zero":false},"axis":null},"y":{"field":"p","type":"quantitative","scale":{"domain":[1.64842,1.84424],"nice":false,"zero":false},"axis":null},"text":{"field":"t"}}},
{"data":{"name":"notes"},"transform":[{"filter":"datum.g=='tfGreen'"}],"mark":{"type":"text","align":"left","baseline":"middle","font":"Liberation Serif","fontSize":9.5,"color":"#008000"},"encoding":{"x":{"field":"i","type":"quantitative","scale":{"domain":[-0.5,407.25],"nice":false,"zero":false},"axis":null},"y":{"field":"p","type":"quantitative","scale":{"domain":[1.64842,1.84424],"nice":false,"zero":false},"axis":null},"text":{"field":"t"}}},
{"data":{"name":"notes"},"transform":[{"filter":"datum.g=='tfRed'"}],"mark":{"type":"text","align":"left","baseline":"middle","font":"Liberation Serif","fontSize":9.5,"color":"#ff0000"},"encoding":{"x":{"field":"i","type":"quantitative","scale":{"domain":[-0.5,407.25],"nice":false,"zero":false},"axis":null},"y":{"field":"p","type":"quantitative","scale":{"domain":[1.64842,1.84424],"nice":false,"zero":false},"axis":null},"text":{"field":"t"}}},
{"data":{"name":"notes"},"transform":[{"filter":"datum.g=='press'"}],"mark":{"type":"text","align":"left","baseline":"middle","font":"Liberation Serif","fontSize":15.5,"color":"#ff0000"},"encoding":{"x":{"field":"i","type":"quantitative","scale":{"domain":[-0.5,407.25],"nice":false,"zero":false},"axis":null},"y":{"field":"p","type":"quantitative","scale":{"domain":[1.64842,1.84424],"nice":false,"zero":false},"axis":null},"text":{"field":"t"}}},
{"data":{"name":"notes"},"transform":[{"filter":"datum.g=='ll'"}],"mark":{"type":"text","align":"left","baseline":"middle","font":"Liberation Sans","fontSize":12,"color":"#1a8a1a"},"encoding":{"x":{"field":"i","type":"quantitative","scale":{"domain":[-0.5,407.25],"nice":false,"zero":false},"axis":null},"y":{"field":"p","type":"quantitative","scale":{"domain":[1.64842,1.84424],"nice":false,"zero":false},"axis":null},"text":{"field":"t"}}},
{"data":{"name":"notes"},"transform":[{"filter":"datum.g=='smallL'"}],"mark":{"type":"text","align":"left","baseline":"middle","font":"Liberation Serif","fontSize":9.5,"color":"#ff0000"},"encoding":{"x":{"field":"i","type":"quantitative","scale":{"domain":[-0.5,407.25],"nice":false,"zero":false},"axis":null},"y":{"field":"p","type":"quantitative","scale":{"domain":[1.64842,1.84424],"nice":false,"zero":false},"axis":null},"text":{"field":"t"}}},
{"data":{"name":"notes"},"transform":[{"filter":"datum.g=='smallR'"}],"mark":{"type":"text","align":"right","baseline":"middle","font":"Liberation Serif","fontSize":9.5,"color":"#ff0000"},"encoding":{"x":{"field":"i","type":"quantitative","scale":{"domain":[-0.5,407.25],"nice":false,"zero":false},"axis":null},"y":{"field":"p","type":"quantitative","scale":{"domain":[1.64842,1.84424],"nice":false,"zero":false},"axis":null},"text":{"field":"t"}}},
{"data":{"name":"notes"},"transform":[{"filter":"datum.g=='close'"}],"mark":{"type":"text","align":"left","baseline":"middle","font":"Liberation Serif","fontSize":12,"color":"#ff0000"},"encoding":{"x":{"field":"i","type":"quantitative","scale":{"domain":[-0.5,407.25],"nice":false,"zero":false},"axis":null},"y":{"field":"p","type":"quantitative","scale":{"domain":[1.64842,1.84424],"nice":false,"zero":false},"axis":null},"text":{"field":"t"}}},
{"data":{"name":"notes"},"transform":[{"filter":"datum.g=='pbox'"}],"mark":{"type":"text","align":"left","baseline":"middle","font":"Liberation Sans","fontSize":9.5,"color":"#ffffff"},"encoding":{"x":{"field":"i","type":"quantitative","scale":{"domain":[-0.5,407.25],"nice":false,"zero":false},"axis":null},"y":{"field":"p","type":"quantitative","scale":{"domain":[1.64842,1.84424],"nice":false,"zero":false},"axis":null},"text":{"field":"t"}}},
{"data":{"name":"notes"},"transform":[{"filter":"datum.g=='arrow'"}],"mark":{"type":"text","align":"center","baseline":"middle","font":"DejaVu Sans","fontSize":17,"fontWeight":"bold","color":"#ff0000"},"encoding":{"x":{"field":"i","type":"quantitative","scale":{"domain":[-0.5,407.25],"nice":false,"zero":false},"axis":null},"y":{"field":"p","type":"quantitative","scale":{"domain":[1.64842,1.84424],"nice":false,"zero":false},"axis":null},"text":{"field":"t"}}}
]
}
